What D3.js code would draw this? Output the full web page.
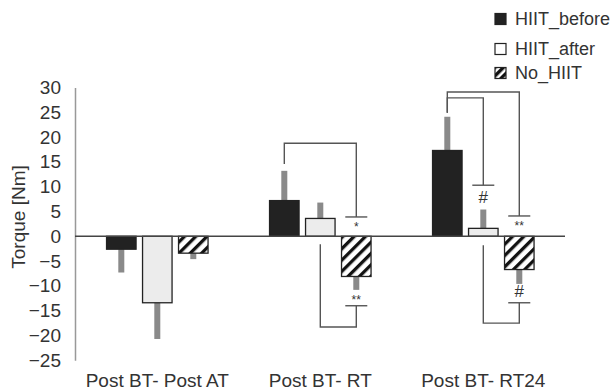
<!DOCTYPE html>
<meta charset="utf-8">
<head>
  <title>Torque change bars</title>
  <style>
    body { margin: 0; background: #fff; }
    text { font-family: "Liberation Sans", Arial, sans-serif; fill: #333; }
  </style>
</head>
<body>
<script src="https://d3js.org/d3.v7.min.js"></script>
<script>

const groups = ["Post BT- Post AT", "Post BT- RT", "Post BT- RT24"];
const series = ["HIIT_before", "HIIT_after", "No_HIIT"];

// mean change per group, one array per series
const hiitBefore = [-2.6, 7.2, 17.3];
const hiitAfter = [-13.4, 3.6, 1.6];
const noHiit = [-3.4, -8.1, -6.7];

// end of the (one sided) error bar
const hiitBeforeErr = [-7.3, 13.2, 24.1];
const hiitAfterErr = [-20.7, 6.8, 5.4];
const noHiitErr = [-4.6, -10.8, -9.6];

const yTicks = [30, 25, 20, 15, 10, 5, 0, -5, -10, -15, -20, -25];

// significance brackets, levels in Nm
const brackets = [
  { group: 1, from: "HIIT_before", to: "No_HIIT", start: 14.6, top: 18.75, end: 3.9, label: "*", labelAt: 2.3 },
  { group: 1, from: "HIIT_after", to: "No_HIIT", start: -1.6, top: -18.3, end: -14.0, label: "**", labelAt: -12.4 },
  { group: 2, from: "HIIT_before", to: "No_HIIT", start: 24.9, top: 29.1, end: 4.1, label: "**", labelAt: 2.5 },
  { group: 2, from: "HIIT_before", to: "HIIT_after", start: 24.9, top: 27.9, end: 10.3, label: "#", labelAt: 7.7 },
  { group: 2, from: "HIIT_after", to: "No_HIIT", start: -1.8, top: -17.5, end: -13.4, label: "#", labelAt: -11.4 }
];

const values = { HIIT_before: hiitBefore, HIIT_after: hiitAfter, No_HIIT: noHiit };
const errs = { HIIT_before: hiitBeforeErr, HIIT_after: hiitAfterErr, No_HIIT: noHiitErr };
const fills = { HIIT_before: "#222", HIIT_after: "#ececec", No_HIIT: "url(#hatch)" };

const width = 616, height = 392;

const svg = d3.select("body")
  .append("svg")
  .attr("width", width)
  .attr("height", height);

// hatch for No_HIIT
const defs = svg.append("defs");
defs.append("pattern")
  .attr("id", "hatch")
  .attr("patternUnits", "userSpaceOnUse")
  .attr("width", 8)
  .attr("height", 8)
  .attr("patternTransform", "rotate(45)")
  .call(p => {
    p.append("rect").attr("width", 8).attr("height", 8).attr("fill", "#fff");
    p.append("rect").attr("x", 0).attr("width", 3.3).attr("height", 8).attr("fill", "#111");
  });
defs.append("pattern")
  .attr("id", "hatchLegend")
  .attr("patternUnits", "userSpaceOnUse")
  .attr("width", 6)
  .attr("height", 6)
  .attr("patternTransform", "rotate(45)")
  .call(p => {
    p.append("rect").attr("width", 6).attr("height", 6).attr("fill", "#fff");
    p.append("rect").attr("x", 0).attr("width", 3.4).attr("height", 6).attr("fill", "#111");
  });

const y = d3.scaleLinear()
  .domain([-25, 30])
  .range([360.3, 87.5]);

const x0 = d3.scalePoint()
  .domain(groups)
  .range([157.3, 483.3]);

const x1 = d3.scaleBand()
  .domain(series)
  .range([-50.75, 50.75])
  .paddingInner(0.18);

const cx = (g, s) => x0(groups[g]) + x1(s) + x1.bandwidth() / 2;

// y axis
const yAxis = svg.append("g")
  .attr("transform", "translate(75,0)")
  .call(d3.axisLeft(y).tickValues(yTicks).tickSize(0).tickPadding(14));
yAxis.select(".domain").attr("stroke", "#999").attr("stroke-width", 1.5);
yAxis.selectAll("text")
  .attr("font-size", 19)
  .attr("font-family", "Liberation Sans, Arial, sans-serif")
  .attr("fill", "#333");

svg.append("text")
  .attr("transform", "translate(25,217) rotate(-90)")
  .attr("text-anchor", "middle")
  .attr("font-size", 19)
  .text("Torque [Nm]");

// error bars (drawn first, gray)
series.forEach(s => {
  svg.append("g")
    .selectAll("rect")
    .data(groups.map((g, i) => ({ i, v: values[s][i], e: errs[s][i] })))
    .join("rect")
    .attr("x", d => cx(d.i, s) - 3)
    .attr("width", 6)
    .attr("y", d => y(Math.max(d.v, d.e)))
    .attr("height", d => Math.abs(y(d.v) - y(d.e)))
    .attr("fill", "#8a8a8a");
});

// bars
series.forEach(s => {
  svg.append("g")
    .selectAll("rect")
    .data(groups.map((g, i) => ({ i, v: values[s][i] })))
    .join("rect")
    .attr("x", d => x0(groups[d.i]) + x1(s))
    .attr("width", x1.bandwidth())
    .attr("y", d => y(Math.max(0, d.v)))
    .attr("height", d => Math.abs(y(d.v) - y(0)))
    .attr("fill", fills[s])
    .attr("stroke", "#222")
    .attr("stroke-width", 1.3);
});

// zero line
svg.append("line")
  .attr("x1", 75).attr("x2", 565)
  .attr("y1", y(0)).attr("y2", y(0))
  .attr("stroke", "#444")
  .attr("stroke-width", 1.6);

// group labels
svg.append("g")
  .selectAll("text")
  .data(groups)
  .join("text")
  .attr("x", d => x0(d))
  .attr("y", 387)
  .attr("text-anchor", "middle")
  .attr("font-size", 19)
  .text(d => d);

// significance brackets
const br = svg.append("g").attr("fill", "none").attr("stroke", "#555").attr("stroke-width", 1.4);
brackets.forEach(b => {
  const xa = cx(b.group, b.from), xb = cx(b.group, b.to);
  br.append("path")
    .attr("d", `M${xa},${y(b.start)}V${y(b.top)}H${xb}V${y(b.end)}`);
  br.append("line")
    .attr("x1", xb - 11).attr("x2", xb + 11)
    .attr("y1", y(b.end)).attr("y2", y(b.end));
  svg.append("text")
    .attr("x", xb)
    .attr("y", y(b.labelAt))
    .attr("text-anchor", "middle")
    .attr("dominant-baseline", "middle")
    .attr("font-size", b.label === "#" ? 17 : 12)
    .attr("dy", b.label === "#" ? 0 : 3)
    .text(b.label);
});

// legend
const legendRows = [19, 49, 73];
const legend = svg.append("g");
series.forEach((s, i) => {
  legend.append("rect")
    .attr("x", 495).attr("y", legendRows[i] - 5.5)
    .attr("width", 11).attr("height", 11)
    .attr("fill", s === "No_HIIT" ? "url(#hatchLegend)" : (s === "HIIT_after" ? "#fff" : "#222"))
    .attr("stroke", "#222")
    .attr("stroke-width", 1.2);
  legend.append("text")
    .attr("x", 515).attr("y", legendRows[i])
    .attr("dominant-baseline", "central")
    .attr("font-size", 18)
    .text(s);
});

</script>
</body>
</html>
